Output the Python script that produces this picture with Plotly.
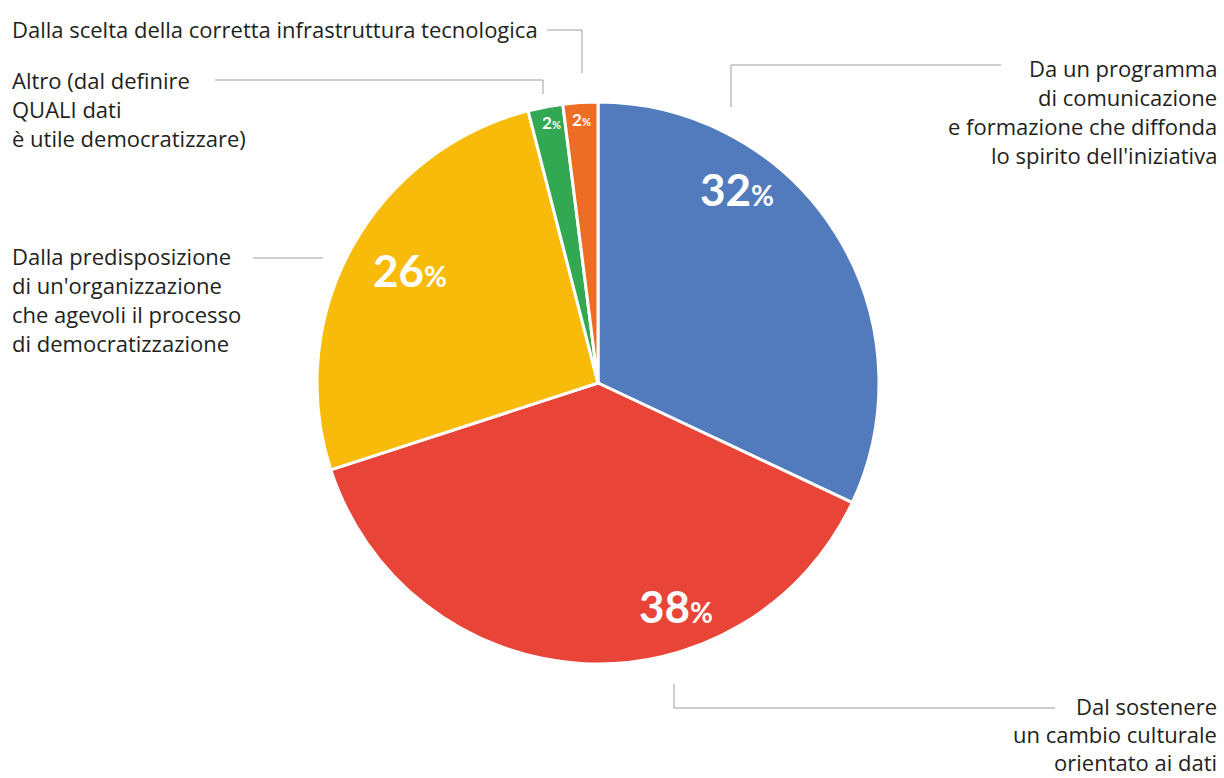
import plotly.graph_objects as go

W, H = 1224, 778

# ---- data ----
categories = [
    "Da un programma di comunicazione e formazione che diffonda lo spirito dell'iniziativa",
    "Dal sostenere un cambio culturale orientato ai dati",
    "Dalla predisposizione di un'organizzazione che agevoli il processo di democratizzazione",
    "Altro (dal definire QUALI dati è utile democratizzare)",
    "Dalla scelta della corretta infrastruttura tecnologica",
]
values = [32, 38, 26, 2, 2]
colors = ["#527BBE", "#E84538", "#F9BB0A", "#33A853", "#EE6D24"]

# label text blocks (lines)
label_lines = [
    ["Da un programma", "di comunicazione", "e formazione che diffonda", "lo spirito dell'iniziativa"],
    ["Dal sostenere", "un cambio culturale", "orientato ai dati"],
    ["Dalla predisposizione", "di un'organizzazione", "che agevoli il processo", "di democratizzazione"],
    ["Altro (dal definire", "QUALI dati", "è utile democratizzare)"],
    ["Dalla scelta della corretta infrastruttura tecnologica"],
]

# ---- layout helpers (pixel -> paper) ----
def px(x):
    return x / W

def py(y):
    return 1 - y / H

cx, cy, r = 598, 383, 281

fig = go.Figure()
fig.add_trace(go.Pie(
    values=values,
    labels=categories,
    marker=dict(colors=colors, line=dict(color="white", width=3)),
    sort=False,
    direction="clockwise",
    rotation=0,
    textinfo="none",
    hoverinfo="label+percent",
    showlegend=False,
    domain=dict(x=[px(cx - r), px(cx + r)], y=[py(cy + r), py(cy - r)]),
))

annotations = []

# percentage labels (pixel placement of label anchors)
pct_pos = [(737, 189), (676, 606), (410, 270), (551, 122), (581, 120)]
pct_big = [44, 44, 44, 17, 17]
pct_small = [28, 28, 28, 11, 11]
for v, (x, y), b, s in zip(values, pct_pos, pct_big, pct_small):
    annotations.append(dict(
        x=px(x), y=py(y), xref="paper", yref="paper",
        text=f"<b>{v}</b><span style='font-size:{s}px'><b>%</b></span>",
        showarrow=False, xanchor="center", yanchor="middle",
        font=dict(family="Lato", size=b, color="white", weight=900),
    ))

# category labels
label_font = dict(family="Open Sans", size=22, color="#231F20")
blocks = [
    (1219, 68, 29, "right"),
    (1219, 706, 28, "right"),
    (10, 256, 29, "left"),
    (10, 80, 29, "left"),
    (10, 29, 29, "left"),
]
for lines, (x, y0, step, anchor) in zip(label_lines, blocks):
    for i, ln in enumerate(lines):
        annotations.append(dict(
            x=px(x), y=py(y0 + i * step), xref="paper", yref="paper",
            text=ln, showarrow=False, xanchor=anchor, yanchor="middle",
            font=label_font,
        ))

fig.update_layout(annotations=annotations)

# leader lines
leaders = [
    [(1001, 65), (731, 65), (731, 107)],
    [(1055, 708), (674, 708), (674, 684)],
    [(253, 258), (323, 258)],
    [(215, 80), (543, 80), (543, 94)],
    [(547, 30), (582, 30), (582, 73)],
]
shapes = []
for pts in leaders:
    for (x0, y0), (x1, y1) in zip(pts[:-1], pts[1:]):
        shapes.append(dict(
            type="line", xref="paper", yref="paper",
            x0=px(x0), y0=py(y0), x1=px(x1), y1=py(y1),
            line=dict(color="#9D9D9D", width=1),
        ))
fig.update_layout(shapes=shapes)

fig.update_layout(
    width=W, height=H,
    margin=dict(l=0, r=0, t=0, b=0),
    paper_bgcolor="white", plot_bgcolor="white",
)

fig.write_html("out.html")
